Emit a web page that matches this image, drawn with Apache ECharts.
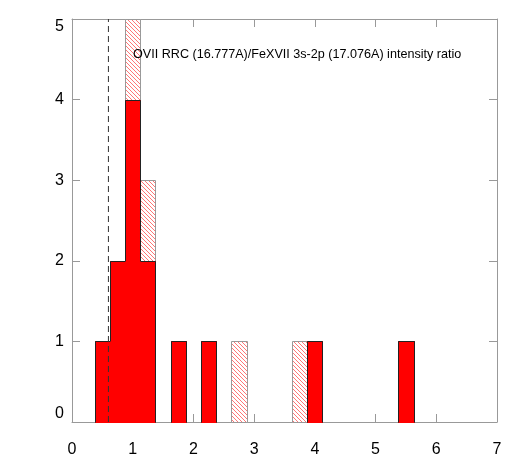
<!DOCTYPE html>
<html>
<head>
<meta charset="utf-8">
<script src="https://cdn.jsdelivr.net/npm/echarts@6/dist/echarts.min.js"></script>
<style>
  html, body { margin: 0; padding: 0; background: #fff; }
  #main { width: 518px; height: 463px; }
</style>
</head>
<body>
<div id="main"></div>
<script>
// histogram bins (centre of each 0.25-wide bin)
var binCenters = [0.5, 0.75, 1.0, 1.25, 1.75, 2.25, 2.75, 3.75, 4.0, 5.5];
var redCounts = [1, 2, 4, 2, 1, 1, 0, 0, 1, 1];
var hatchCounts = [0, 0, 1, 1, 0, 0, 1, 1, 0, 0];
var binWidth = 0.25;
var cutValue = 0.6;
var xMin = 0, xMax = 7, yMin = 0, yMax = 5;
var ratioLabel = "OVII RRC (16.777A)/FeXVII 3s-2p (17.076A) intensity ratio";

// diagonal hatch pattern
var pat = document.createElement("canvas");
pat.width = 4;
pat.height = 4;
var ctx = pat.getContext("2d");
ctx.fillStyle = "#fff";
ctx.fillRect(0, 0, 4, 4);
ctx.strokeStyle = "rgba(255,0,0,0.6)";
ctx.lineWidth = 0.9;
ctx.beginPath();
ctx.moveTo(-1, -1); ctx.lineTo(5, 5);
ctx.moveTo(-1, 3); ctx.lineTo(1, 5);
ctx.moveTo(3, -1); ctx.lineTo(5, 1);
ctx.stroke();

function isNext(i, j) {
  return Math.abs(binCenters[j] - binCenters[i] - binWidth) < 1e-6;
}
function px(p) { return [Math.round(p[0]) + 0.5, Math.round(p[1]) + 0.5]; }

var redData = binCenters.map(function (c, i) { return [c, redCounts[i]]; });
var hatchData = binCenters.map(function (c, i) { return [c, redCounts[i], hatchCounts[i]]; });

function renderRed(params, api) {
  var i = params.dataIndex;
  var c = api.value(0), h = api.value(1);
  if (!h) return;
  var x0 = c - binWidth / 2, x1 = c + binWidth / 2;
  var p0 = px(api.coord([x0, 0]));
  var p1 = px(api.coord([x1, h]));
  var prevH = i > 0 && isNext(i - 1, i) ? redCounts[i - 1] : 0;
  var nextH = i < binCenters.length - 1 && isNext(i, i + 1) ? redCounts[i + 1] : 0;
  var pts = [
    px(api.coord([x0, Math.min(prevH, h)])),
    px(api.coord([x0, h])),
    px(api.coord([x1, h])),
    px(api.coord([x1, Math.min(nextH, h)]))
  ];
  return {
    type: "group",
    children: [
      {
        type: "rect",
        shape: { x: p0[0] - 0.5, y: p1[1] - 0.5, width: p1[0] - p0[0] + 1, height: p0[1] - p1[1] + 1 },
        style: { fill: "#ff0000" }
      },
      {
        type: "polyline",
        shape: { points: pts },
        style: { fill: null, stroke: "#222", lineWidth: 1 }
      }
    ]
  };
}

function renderHatch(params, api) {
  var c = api.value(0), base = api.value(1), h = api.value(2);
  if (!h) return;
  var a = px(api.coord([c - binWidth / 2, base]));
  var b = px(api.coord([c + binWidth / 2, base + h]));
  return {
    type: "rect",
    shape: { x: a[0], y: b[1], width: b[0] - a[0], height: a[1] - b[1] },
    style: { fill: { image: pat, repeat: "repeat" }, stroke: "#999", lineWidth: 1 }
  };
}

var axisColor = "#999";
var labelFont = { fontSize: 16, color: "#000", fontFamily: "Liberation Sans" };

function xAx(pos, showLabel) {
  return {
    type: "value", position: pos, min: xMin, max: xMax, interval: 1,
    axisLine: { show: true, onZero: false, lineStyle: { color: axisColor } },
    axisTick: { show: true, inside: true, length: 8, lineStyle: { color: axisColor } },
    axisLabel: Object.assign({ show: showLabel, margin: 20, showMinLabel: true, showMaxLabel: true }, labelFont),
    splitLine: { show: false }
  };
}
function yAx(pos, showLabel) {
  return {
    type: "value", position: pos, min: yMin, max: yMax, interval: 1,
    axisLine: { show: true, onZero: false, lineStyle: { color: axisColor } },
    axisTick: { show: true, inside: true, length: 8, lineStyle: { color: axisColor } },
    axisLabel: Object.assign({
      show: showLabel, margin: 8, showMinLabel: true, showMaxLabel: true,
      verticalAlignMaxLabel: "top", verticalAlignMinLabel: "bottom"
    }, labelFont),
    splitLine: { show: false }
  };
}

var myChart = echarts.init(document.getElementById("main"));
var option = {
  animation: false,
  backgroundColor: "#fff",
  title: {
    text: ratioLabel,
    left: 133,
    top: 48,
    padding: 0,
    textStyle: { fontSize: 12.6, fontWeight: "normal", color: "#000", fontFamily: "Liberation Sans" }
  },
  grid: { left: 72, right: 21, top: 19, bottom: 41, containLabel: false, outerBoundsMode: "none" },
  xAxis: [xAx("bottom", true), xAx("top", false)],
  yAxis: [yAx("left", true), yAx("right", false)],
  series: [
    { type: "custom", renderItem: renderHatch, data: hatchData, z: 2, xAxisIndex: 0, yAxisIndex: 0 },
    { type: "custom", renderItem: renderRed, data: redData, z: 3, xAxisIndex: 0, yAxisIndex: 0 },
    {
      type: "line", data: [[cutValue, yMin], [cutValue, yMax]], symbol: "none", z: 4,
      lineStyle: { color: "#333", width: 1, type: [6, 4] }
    }
  ]
};
myChart.setOption(option);
</script>
</body>
</html>
